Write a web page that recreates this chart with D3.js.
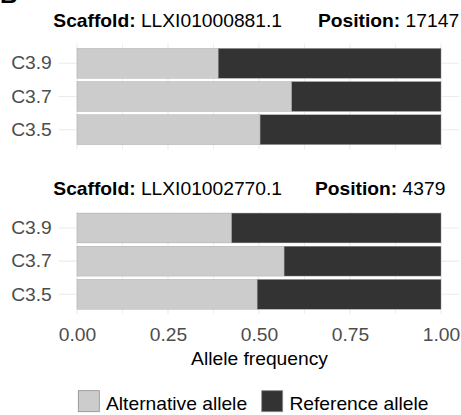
<!DOCTYPE html>
<html>
<head>
<meta charset="utf-8">
<script src="https://cdn.jsdelivr.net/npm/d3@7"></script>
<style>
  html, body { margin: 0; padding: 0; background: #ffffff; }
  svg { display: block; }
  text { font-family: "Liberation Sans", Arial, Helvetica, sans-serif; }
</style>
</head>
<body>
<svg id="chart" width="461" height="415"></svg>
<script>
// Samples (rows of each panel)
const categories = ["C3.9", "C3.7", "C3.5"];

// Panel headings
const scaffolds = ["LLXI01000881.1", "LLXI01002770.1"];
const positions = ["17147", "4379"];

// Allele frequencies per sample, one pair of arrays per panel
const altFreqA = [0.388, 0.590, 0.503];
const refFreqA = [0.612, 0.410, 0.497];
const altFreqB = [0.425, 0.569, 0.495];
const refFreqB = [0.575, 0.431, 0.505];

// Axis and legend
const xTicks = [0, 0.25, 0.5, 0.75, 1];
const xMinorTicks = [0.125, 0.375, 0.625, 0.875];
const seriesNames = ["Alternative allele", "Reference allele"];
const seriesKeys = ["alt", "ref"];
const seriesColors = ["#cccccc", "#333333"];

const svg = d3.select("#chart");
const FS = 17.5;          // base font size
const SX = 1.1;           // horizontal text stretch
const labelGray = "#4d4d4d";
const gridColor = "#ebebeb";

const x = d3.scaleLinear().domain([0, 1]).range([77, 441]);
const panelLeft = x(-0.05), panelRight = x(1.05);

const color = d3.scaleOrdinal().domain(seriesKeys).range(seriesColors);
const stack = d3.stack().keys(seriesKeys);

const panels = [
  { alt: altFreqA, ref: refFreqA, scaffold: scaffolds[0], position: positions[0],
    titleY: 26.7, posX: 318, gridTop: 43.4, gridBottom: 149.6,
    bandRange: [43.4, 149.6], outer: 0.15 },
  { alt: altFreqB, ref: refFreqB, scaffold: scaffolds[1], position: positions[1],
    titleY: 195, posX: 315, gridTop: 211.7, gridBottom: 314,
    bandRange: [211.4, 310.9], outer: 0.05 }
];

function stretchedText(parent, tx, ty) {
  return parent.append("text")
    .attr("transform", `translate(${tx},${ty}) scale(${SX},1)`)
    .attr("font-size", FS);
}

// Panel tag, mostly outside the top edge
stretchedText(svg, 0, 2.5).attr("font-weight", "bold").attr("font-size", 22).text("B");

panels.forEach(p => {
  const rows = categories.map((c, i) => ({ cat: c, alt: p.alt[i], ref: p.ref[i] }));
  const y = d3.scaleBand().domain(categories).range(p.bandRange)
    .paddingInner(0.1).paddingOuter(p.outer);

  const g = svg.append("g");

  // grid
  g.selectAll("line.minor").data(xMinorTicks).join("line")
    .attr("x1", d => x(d)).attr("x2", d => x(d))
    .attr("y1", p.gridTop).attr("y2", p.gridBottom)
    .attr("stroke", gridColor).attr("stroke-width", 0.8);
  g.selectAll("line.major").data(xTicks).join("line")
    .attr("x1", d => x(d)).attr("x2", d => x(d))
    .attr("y1", p.gridTop).attr("y2", p.gridBottom)
    .attr("stroke", gridColor).attr("stroke-width", 1.1);
  g.selectAll("line.hgrid").data(categories).join("line")
    .attr("x1", panelLeft).attr("x2", panelRight)
    .attr("y1", d => y(d) + y.bandwidth() / 2).attr("y2", d => y(d) + y.bandwidth() / 2)
    .attr("stroke", gridColor).attr("stroke-width", 1.1);

  // stacked bars
  const layers = stack(rows);
  g.selectAll("g.layer").data(layers).join("g")
    .attr("fill", d => color(d.key))
    .selectAll("rect").data(d => d).join("rect")
    .attr("x", d => x(d[0]))
    .attr("width", d => x(d[1]) - x(d[0]))
    .attr("y", d => y(d.data.cat))
    .attr("height", y.bandwidth())
    .attr("stroke", "#a0a0a0").attr("stroke-width", 0.4);

  // y labels
  const yAxis = d3.axisLeft(y).tickSize(0).tickPadding(0);
  const ya = g.append("g").attr("transform", `translate(${panelLeft},0)`).call(yAxis);
  ya.select(".domain").remove();
  ya.selectAll("text")
    .attr("x", null).attr("dy", null)
    .attr("transform", `translate(-7,0) scale(${SX},1)`)
    .attr("dominant-baseline", "central")
    .attr("font-size", FS).attr("font-family", null)
    .attr("fill", labelGray);

  // heading
  const t1 = stretchedText(svg, 53.3, p.titleY).attr("fill", "#000");
  t1.append("tspan").attr("font-weight", "bold").text("Scaffold:");
  t1.append("tspan").text(" " + p.scaffold);
  const t2 = stretchedText(svg, p.posX, p.titleY).attr("fill", "#000");
  t2.append("tspan").attr("font-weight", "bold").text("Position:");
  t2.append("tspan").text(" " + p.position);
});

// x axis under the lower panel
const xAxis = d3.axisBottom(x).tickValues(xTicks).tickFormat(d3.format(".2f"))
  .tickSize(0).tickPadding(0);
const xa = svg.append("g").attr("transform", "translate(0,340.5)").call(xAxis);
xa.select(".domain").remove();
xa.selectAll("text")
  .attr("y", null).attr("dy", null)
  .attr("transform", `scale(${SX},1)`)
  .attr("font-size", FS).attr("font-family", null)
  .attr("fill", labelGray);

stretchedText(svg, 259.5, 365).attr("text-anchor", "middle").attr("fill", "#000")
  .text("Allele frequency");

// legend
const legendX = [78.3, 261.7];
seriesNames.forEach((name, i) => {
  svg.append("rect")
    .attr("x", legendX[i]).attr("y", 390.7).attr("width", 21).attr("height", 21)
    .attr("fill", seriesColors[i]).attr("stroke", "#8c8c8c").attr("stroke-width", 0.8);
  stretchedText(svg, legendX[i] + 27.7, 409.5).attr("fill", "#000").text(name);
});
</script>
</body>
</html>
